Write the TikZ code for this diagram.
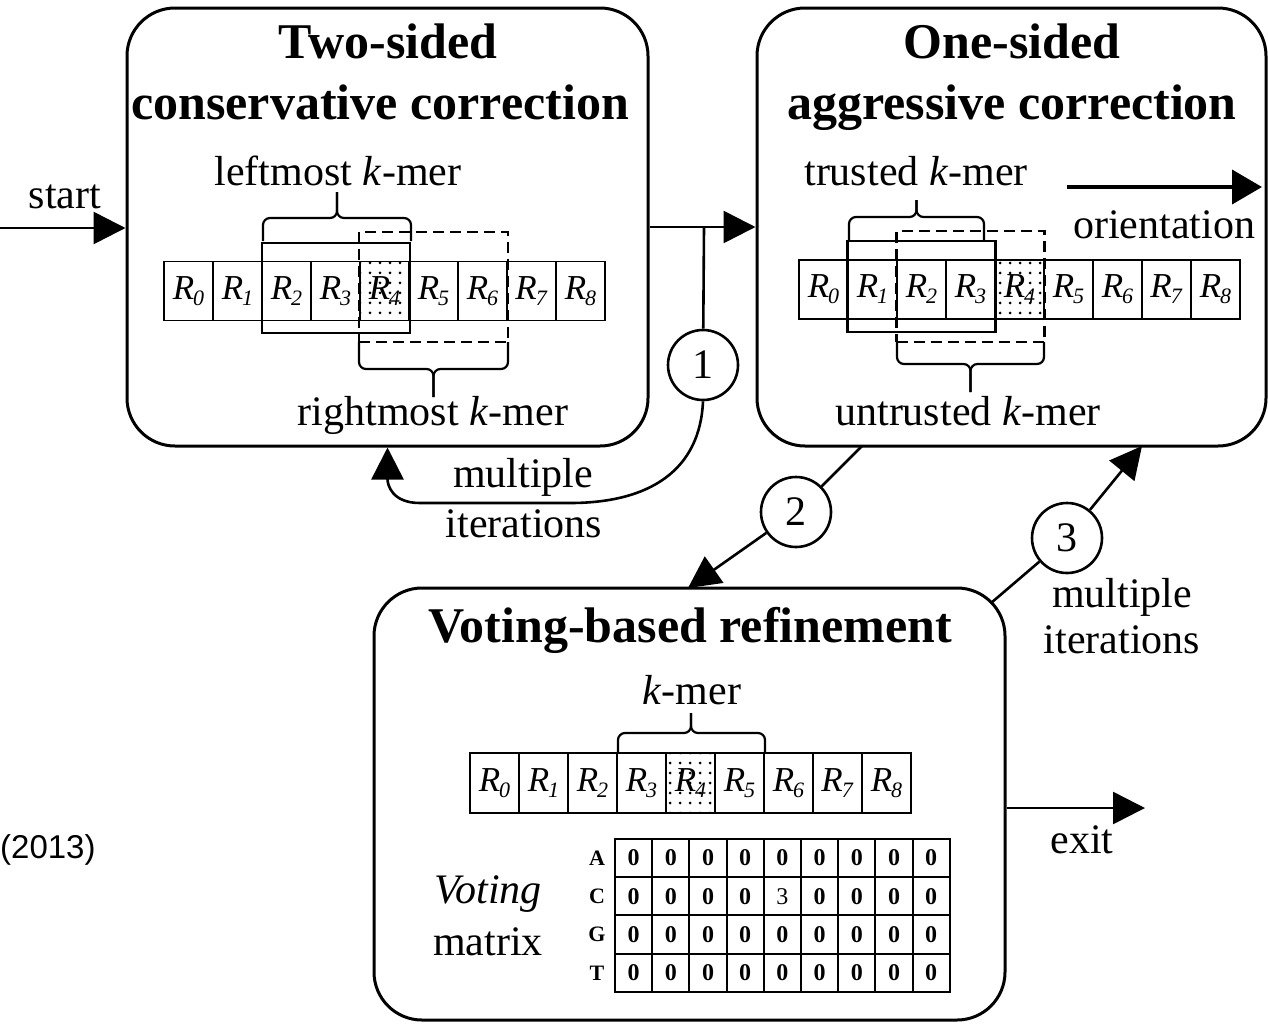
\documentclass[tikz,border=0pt]{standalone}
\usepackage{fontspec}
\setmainfont{Liberation Serif}
\setsansfont{Liberation Sans}
\usetikzlibrary{arrows.meta,patterns.meta}

\newcommand{\rsym}[1]{\textit{R}\kern-1pt\raisebox{-6pt}{\fontsize{22}{22}\selectfont\textit{#1}}}

\begin{document}
\begin{tikzpicture}[x=1pt,y=-1pt,
	stage/.style={rectangle, rounded corners=48pt, draw, line width=3pt, inner sep=0pt},
	ttl/.style={font=\fontsize{50}{50}\selectfont\bfseries, anchor=base, inner sep=0pt},
	lbl/.style={font=\fontsize{42}{42}\selectfont, anchor=base, inner sep=0pt},
	rcell/.style={rectangle, draw, line width=1.8pt, minimum width=49pt, minimum height=59pt, inner sep=0pt, font=\fontsize{35}{35}\selectfont},
	rdot/.style={rcell, pattern={Dots[distance=10pt,radius=1.5pt]}},
	kwin/.style={rectangle, draw, line width=2.8pt, inner sep=0pt},
	kdash/.style={kwin, dash pattern=on 11pt off 6pt},
	kbrace/.style={line width=2.2pt, rounded corners=7pt},
	vcell/.style={rectangle, draw, line width=2pt, minimum width=37.2pt, minimum height=38.3pt, inner sep=0pt, font=\fontsize{24}{24}\selectfont\bfseries},
	nuc/.style={inner sep=0pt, font=\fontsize{22}{22}\selectfont\bfseries},
	num/.style={circle, draw, line width=2.6pt, minimum size=70pt, inner sep=0pt, font=\fontsize{42}{42}\selectfont},
	link/.style={line width=2.6pt},
	flow/.style={link, -{Triangle[length=32pt,width=32pt]}}
	]
	\useasboundingbox (0,0) rectangle (1268,1023);

	\node[stage, minimum width=521pt, minimum height=438pt](boxA) at (387.5,227){};
	\node[stage, minimum width=509pt, minimum height=438pt](boxB) at (1011.5,227){};
	\node[stage, minimum width=631pt, minimum height=432pt](boxC) at (689.5,804){};

	\node[ttl](titleA1) at (388,58){Two-sided};
	\node[ttl](titleA2) at (380,119){conservative correction};
	\node[ttl](titleB1) at (1012,58){One-sided};
	\node[ttl](titleB2) at (1012,119){aggressive correction};
	\node[ttl](titleC) at (690,642){Voting-based refinement};

	\node[rcell](cellA0) at (188.5,291){\rsym{0}};
	\node[rcell](cellA1) at (237.5,291){\rsym{1}};
	\node[rcell](cellA2) at (286.5,291){\rsym{2}};
	\node[rcell](cellA3) at (335.5,291){\rsym{3}};
	\node[rdot](cellA4) at (384.5,291){\rsym{4}};
	\node[rcell](cellA5) at (433.5,291){\rsym{5}};
	\node[rcell](cellA6) at (482.5,291){\rsym{6}};
	\node[rcell](cellA7) at (531.5,291){\rsym{7}};
	\node[rcell](cellA8) at (580.5,291){\rsym{8}};

	\node[kwin, minimum width=148pt, minimum height=90pt](leftWin) at (336,288){};
	\node[kdash, minimum width=149pt, minimum height=110pt](rightWin) at (433.5,287){};
	\draw[kbrace] (263,241) |- (337,218) -- (337,192);
	\draw[kbrace] (411,241) |- (337,218) -- (337,192);
	\draw[kbrace] (359,342) |- (433.5,369) -- (433.5,397);
	\draw[kbrace] (508,342) |- (433.5,369) -- (433.5,397);
	\node[lbl](leftLbl) at (338,185){leftmost \textit{k}-mer};
	\node[lbl](rightLbl) at (433,425){rightmost \textit{k}-mer};

	\node[rcell](cellB0) at (823.5,289.5){\rsym{0}};
	\node[rcell](cellB1) at (872.5,289.5){\rsym{1}};
	\node[rcell](cellB2) at (921.5,289.5){\rsym{2}};
	\node[rcell](cellB3) at (970.5,289.5){\rsym{3}};
	\node[rdot](cellB4) at (1019.5,289.5){\rsym{4}};
	\node[rcell](cellB5) at (1068.5,289.5){\rsym{5}};
	\node[rcell](cellB6) at (1117.5,289.5){\rsym{6}};
	\node[rcell](cellB7) at (1166.5,289.5){\rsym{7}};
	\node[rcell](cellB8) at (1215.5,289.5){\rsym{8}};

	\node[kwin, minimum width=148pt, minimum height=91pt](trustWin) at (921.5,286.5){};
	\node[kdash, minimum width=148pt, minimum height=111pt](untrustWin) at (970.5,286.5){};
	\draw[kbrace] (849,241) |- (916.5,217) -- (916.5,200);
	\draw[kbrace] (984,241) |- (916.5,217) -- (916.5,200);
	\draw[kbrace] (897,342) |- (970.5,364) -- (970.5,392);
	\draw[kbrace] (1044,342) |- (970.5,364) -- (970.5,392);
	\node[lbl](trustLbl) at (916,185){trusted \textit{k}-mer};
	\node[lbl](untrustLbl) at (968,425){untrusted \textit{k}-mer};

	\coordinate (oriL) at (1067,187);
	\coordinate (oriR) at (1262,187);
	\draw[line width=4pt, -{Triangle[length=30pt,width=34pt]}] (oriL) -- (oriR);
	\node[lbl](oriLbl) at (1164,238){orientation};

	\node[rcell, minimum height=60pt](cellC0) at (494.5,783){\rsym{0}};
	\node[rcell, minimum height=60pt](cellC1) at (543.5,783){\rsym{1}};
	\node[rcell, minimum height=60pt](cellC2) at (592.5,783){\rsym{2}};
	\node[rcell, minimum height=60pt](cellC3) at (641.5,783){\rsym{3}};
	\node[rdot, minimum height=60pt](cellC4) at (690.5,783){\rsym{4}};
	\node[rcell, minimum height=60pt](cellC5) at (739.5,783){\rsym{5}};
	\node[rcell, minimum height=60pt](cellC6) at (788.5,783){\rsym{6}};
	\node[rcell, minimum height=60pt](cellC7) at (837.5,783){\rsym{7}};
	\node[rcell, minimum height=60pt](cellC8) at (886.5,783){\rsym{8}};
	\draw[kbrace] (618,753) |- (691,733) -- (691,713);
	\draw[kbrace] (765,753) |- (691,733) -- (691,713);
	\node[lbl](kLbl) at (692,704){\textit{k}-mer};

	\node[lbl](voteLbl) at (488,903){\textit{Voting}};
	\node[lbl](matLbl) at (488,955){matrix};

	\node[nuc](nucA) at (597,858){A};
	\node[nuc](nucC) at (597,896.3){C};
	\node[nuc](nucG) at (597,934.6){G};
	\node[nuc](nucT) at (597,972.9){T};

	\node[vcell](voteA0) at (633.6,858){0};
	\node[vcell](voteA1) at (670.8,858){0};
	\node[vcell](voteA2) at (708,858){0};
	\node[vcell](voteA3) at (745.2,858){0};
	\node[vcell](voteA4) at (782.4,858){0};
	\node[vcell](voteA5) at (819.6,858){0};
	\node[vcell](voteA6) at (856.8,858){0};
	\node[vcell](voteA7) at (894,858){0};
	\node[vcell](voteA8) at (931.2,858){0};

	\node[vcell](voteC0) at (633.6,896.3){0};
	\node[vcell](voteC1) at (670.8,896.3){0};
	\node[vcell](voteC2) at (708,896.3){0};
	\node[vcell](voteC3) at (745.2,896.3){0};
	\node[vcell, font=\fontsize{24}{24}\selectfont](voteC4) at (782.4,896.3){3};
	\node[vcell](voteC5) at (819.6,896.3){0};
	\node[vcell](voteC6) at (856.8,896.3){0};
	\node[vcell](voteC7) at (894,896.3){0};
	\node[vcell](voteC8) at (931.2,896.3){0};

	\node[vcell](voteG0) at (633.6,934.6){0};
	\node[vcell](voteG1) at (670.8,934.6){0};
	\node[vcell](voteG2) at (708,934.6){0};
	\node[vcell](voteG3) at (745.2,934.6){0};
	\node[vcell](voteG4) at (782.4,934.6){0};
	\node[vcell](voteG5) at (819.6,934.6){0};
	\node[vcell](voteG6) at (856.8,934.6){0};
	\node[vcell](voteG7) at (894,934.6){0};
	\node[vcell](voteG8) at (931.2,934.6){0};

	\node[vcell](voteT0) at (633.6,972.9){0};
	\node[vcell](voteT1) at (670.8,972.9){0};
	\node[vcell](voteT2) at (708,972.9){0};
	\node[vcell](voteT3) at (745.2,972.9){0};
	\node[vcell](voteT4) at (782.4,972.9){0};
	\node[vcell](voteT5) at (819.6,972.9){0};
	\node[vcell](voteT6) at (856.8,972.9){0};
	\node[vcell](voteT7) at (894,972.9){0};
	\node[vcell](voteT8) at (931.2,972.9){0};

	\node[num](stepOne) at (703,365){1};
	\node[num](stepTwo) at (796,512){2};
	\node[num](stepThree) at (1067,538){3};

	\coordinate (startPt) at (0,228);
	\node[lbl](startLbl) at (65,208){start};
	\draw[flow] (startPt) -- (startPt -| boxA.west);

	\draw[flow] (boxA.east) -- (boxB.west);
	\coordinate (split) at (704,227);
	\draw[link] (split) -- (stepOne);
	\draw[flow] (stepOne.south) .. controls (700,470) and (650,503) .. (570,503) -- (420,503) .. controls (392,503) and (387.5,485) .. (boxA.south);
	\node[lbl](loopLbl1) at (523,487){multiple};
	\node[lbl](loopLbl2) at (524,537){iterations};

	\coordinate (bKnee) at (862,446);
	\coordinate (cIn) at (688,588);
	\draw[link] (bKnee) -- (stepTwo);
	\draw[flow] (stepTwo) -- (cIn);

	\coordinate (cKnee) at (991,603);
	\coordinate (bIn) at (1142,446);
	\draw[link] (cKnee) -- (stepThree);
	\draw[flow] (stepThree) -- (bIn);
	\node[lbl](backLbl1) at (1122,607){multiple};
	\node[lbl](backLbl2) at (1122,653){iterations};

	\coordinate (exitPt) at (1145,808);
	\draw[flow] (boxC.east |- exitPt) -- (exitPt);
	\node[lbl](exitLbl) at (1082,853){exit};

	\node[font=\fontsize{33}{33}\selectfont\sffamily, anchor=base west, inner sep=0pt](year) at (0,858){(2013)};
\end{tikzpicture}
\end{document}
